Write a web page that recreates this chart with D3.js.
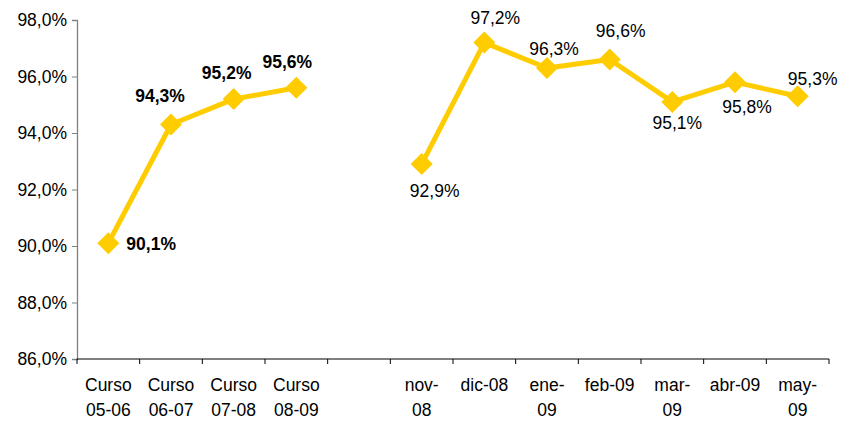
<!DOCTYPE html>
<html>
<head>
<meta charset="utf-8">
<script src="https://cdn.jsdelivr.net/npm/d3@7"></script>
<style>
  body { margin: 0; background: #fff; }
  text { font-family: "Liberation Sans", Arial, sans-serif; }
</style>
</head>
<body>
<script>
'use strict';

// categories (multi-line labels), blank slot separates courses from months
const categories = ['Curso\n05-06', 'Curso\n06-07', 'Curso\n07-08', 'Curso\n08-09', '',
  'nov-\n08', 'dic-08', 'ene-\n09', 'feb-09', 'mar-\n09', 'abr-09', 'may-\n09'];
const values = [90.1, 94.3, 95.2, 95.6, null, 92.9, 97.2, 96.3, 96.6, 95.1, 95.8, 95.3];
const boldLabel = [true, true, true, true, false, false, false, false, false, false, false, false];
const yTicks = [86, 88, 90, 92, 94, 96, 98];

// hand-placed data label offsets [dx, dy] from the marker (layout only)
const labelOffset = [[18, 7], [-11, -23], [-7, -20], [-9, -20], null,
  [13, 33], [11, -19], [7, -13], [11, -23], [5, 27], [12, 31], [15, -11]];

(function () {
  const width = 841, height = 423;
  const left = 77, right = 829, top = 20, bottom = 359;
  const fmt = v => v.toFixed(1).replace('.', ',') + '%';

  const svg = d3.select('body').append('svg')
    .attr('width', width)
    .attr('height', height);

  const x = d3.scaleBand().domain(d3.range(categories.length)).range([left, right]);
  const y = d3.scaleLinear().domain([86, 98]).range([bottom, top]);
  const cx = i => x(i) + x.bandwidth() / 2;

  // y axis
  const yAxis = d3.axisLeft(y).tickValues(yTicks).tickSize(5).tickPadding(5).tickFormat(fmt);
  const gy = svg.append('g')
    .attr('transform', `translate(${left},0)`)
    .call(yAxis);
  gy.select('.domain').attr('stroke', '#808080').attr('stroke-width', 1.3);
  gy.selectAll('.tick line').attr('stroke', '#808080');
  gy.selectAll('.tick text').style('font-size', '17.5px').attr('fill', '#000');

  // x axis: ticks at band boundaries
  svg.append('line')
    .attr('x1', left).attr('x2', right)
    .attr('y1', bottom).attr('y2', bottom)
    .attr('stroke', '#000').attr('stroke-width', 1.2);
  const bounds = d3.range(categories.length + 1).map(i => i < categories.length ? x(i) : right);
  svg.selectAll('.xtick')
    .data(bounds)
    .enter().append('line')
    .attr('class', 'xtick')
    .attr('x1', d => d).attr('x2', d => d)
    .attr('y1', bottom).attr('y2', bottom + 5)
    .attr('stroke', '#000');

  const xl = svg.selectAll('.xlab')
    .data(categories)
    .enter().append('text')
    .attr('class', 'xlab')
    .attr('text-anchor', 'middle')
    .style('font-size', '17.5px')
    .attr('transform', (d, i) => `translate(${cx(i)},391)`);
  xl.selectAll('tspan')
    .data(d => d.split('\n'))
    .enter().append('tspan')
    .attr('x', 0)
    .attr('dy', (d, i) => i === 0 ? 0 : 25)
    .text(d => d);

  // line with gap for the blank category
  const pts = values.map((v, i) => ({ i: i, v: v }));
  const line = d3.line()
    .defined(d => d.v !== null)
    .x(d => cx(d.i))
    .y(d => y(d.v));
  svg.append('path')
    .datum(pts)
    .attr('d', line)
    .attr('fill', 'none')
    .attr('stroke', '#FFCC00')
    .attr('stroke-width', 5)
    .attr('stroke-linejoin', 'round');

  const valid = pts.filter(d => d.v !== null);
  svg.selectAll('.dot')
    .data(valid)
    .enter().append('path')
    .attr('class', 'dot')
    .attr('d', 'M0,-11L11,0L0,11L-11,0Z')
    .attr('fill', '#FFCC00')
    .attr('transform', d => `translate(${cx(d.i)},${y(d.v)})`);

  // data labels
  svg.selectAll('.lab')
    .data(valid)
    .enter().append('text')
    .attr('class', 'lab')
    .style('font-size', '17.5px')
    .style('font-weight', d => boldLabel[d.i] ? 'bold' : 'normal')
    .attr('text-anchor', d => d.i === 0 ? 'start' : 'middle')
    .attr('x', d => cx(d.i) + labelOffset[d.i][0])
    .attr('y', d => y(d.v) + labelOffset[d.i][1])
    .text(d => fmt(d.v));
})();
</script>
</body>
</html>
